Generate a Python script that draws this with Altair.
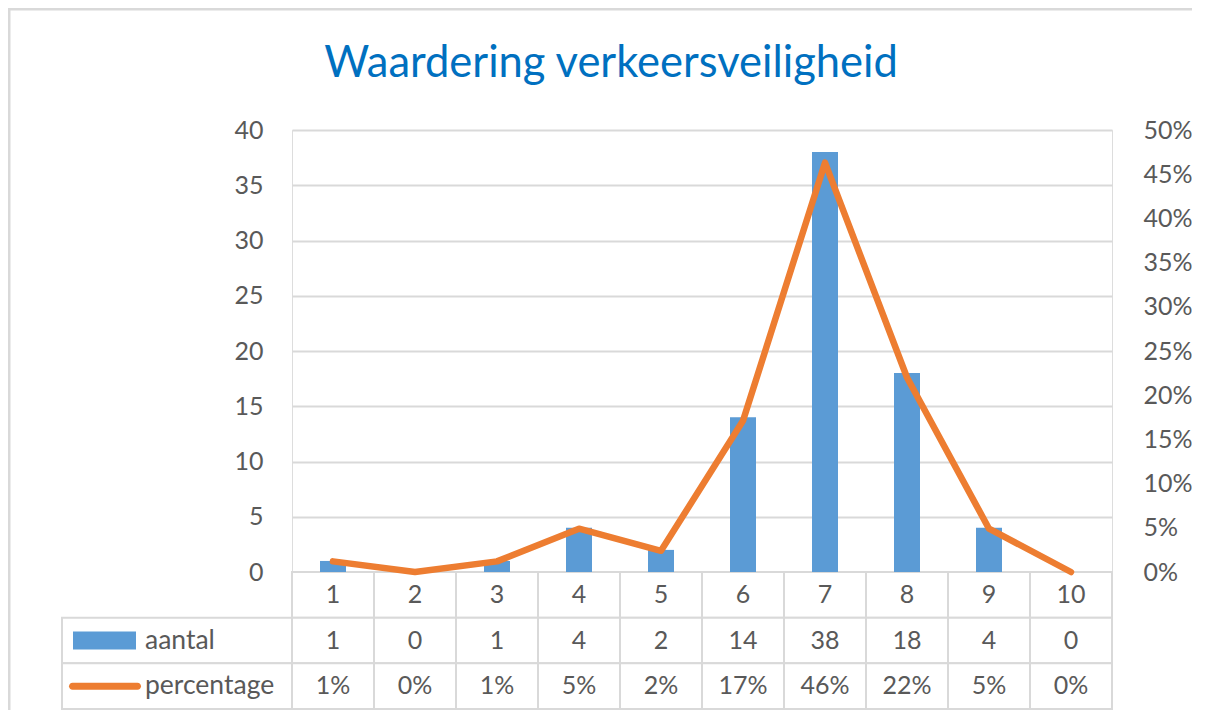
import altair as alt
import pandas as pd

# ---- data ----
categories = ["1", "2", "3", "4", "5", "6", "7", "8", "9", "10"]
aantal = [1, 0, 1, 4, 2, 14, 38, 18, 4, 0]
percentage = [1.2, 0.0, 1.2, 4.9, 2.4, 17.1, 46.3, 22.0, 4.9, 0.0]
percentage_labels = ["1%", "0%", "1%", "5%", "2%", "17%", "46%", "22%", "5%", "0%"]
series_names = ["aantal", "percentage"]
row_names = ["cat", "aantal", "percentage"]
left_ticks = [0, 5, 10, 15, 20, 25, 30, 35, 40]
right_ticks = [0, 0.05, 0.10, 0.15, 0.20, 0.25, 0.30, 0.35, 0.40, 0.45, 0.50]

# ---- layout ----
W = 820
H_PLOT = 442
ROW_H = 46
H = H_PLOT + 3 * ROW_H
PAD_R = 80
FONT = "Lato"
TXT = "#595959"
GRID = "#D9D9D9"
BLUE = "#5B9BD5"
ORANGE = "#ED7D31"

df = pd.DataFrame({"cat": categories, "aantal": aantal,
                   "pct": [p / 100 for p in percentage]})

table_rows = []
for c, a, pl in zip(categories, aantal, percentage_labels):
    table_rows.append({"cat": c, "row": "cat", "label": c})
    table_rows.append({"cat": c, "row": "aantal", "label": str(a)})
    table_rows.append({"cat": c, "row": "percentage", "label": pl})
tdf = pd.DataFrame(table_rows)
sdf = pd.DataFrame({"row": series_names})

x_enc = alt.X("cat:N", sort=categories,
              scale=alt.Scale(domain=categories, paddingInner=0, paddingOuter=0),
              axis=None)
table_y = alt.Y("row:N", sort=row_names,
                scale=alt.Scale(domain=row_names, range=[H_PLOT, H - 1],
                                paddingInner=0, paddingOuter=0),
                axis=None)

one = pd.DataFrame({"a": [0]})
border_top = alt.Chart(one).mark_rule(stroke=GRID, strokeWidth=3).encode(
    x=alt.value(-290), x2=alt.value(W + PAD_R), y=alt.value(-121))
border_left = alt.Chart(one).mark_rule(stroke=GRID, strokeWidth=3).encode(
    x=alt.value(-283), y=alt.value(-122.5), y2=alt.value(H))

cells = alt.Chart(tdf).mark_rect(fill="white", stroke=GRID, strokeWidth=2).encode(
    x=x_enc, y=table_y)

left_cells = alt.Chart(sdf).mark_rect(fill="white", stroke=GRID, strokeWidth=2).encode(
    x=alt.value(-230), x2=alt.value(0), y=table_y)

bars = alt.Chart(df).mark_bar(size=26, color=BLUE).encode(
    x=x_enc,
    y=alt.Y("aantal:Q",
            scale=alt.Scale(domain=[0, 40], range=[H_PLOT, 0], nice=False),
            axis=alt.Axis(values=left_ticks, grid=True, gridColor=GRID, gridWidth=2,
                          domain=False, ticks=False, labelPadding=29,
                          labelFontSize=25, labelFont=FONT, labelColor=TXT,
                          title=None)))

line = alt.Chart(df).mark_line(color=ORANGE, strokeWidth=6.5, strokeCap="round",
                               strokeJoin="round").encode(
    x=x_enc,
    y=alt.Y("pct:Q",
            scale=alt.Scale(domain=[0, 0.5], range=[H_PLOT, 0], nice=False),
            axis=alt.Axis(orient="right", values=right_ticks, format=".0%",
                          grid=False, domain=False, ticks=False, labelPadding=31,
                          labelFontSize=25, labelFont=FONT, labelColor=TXT,
                          title=None)))

texts = alt.Chart(tdf).mark_text(font=FONT, fontSize=25, color=TXT).encode(
    x=x_enc, y=table_y, text="label:N")

row_labels = alt.Chart(sdf).mark_text(font=FONT, fontSize=26.5, color=TXT,
                                      align="left").encode(
    x=alt.value(-147), y=table_y, text="row:N")

swatch_bar = alt.Chart(pd.DataFrame({"row": ["aantal"]})).mark_bar(
    height=18, color=BLUE).encode(
    x=alt.value(-219), x2=alt.value(-156), y=table_y)

swatch_line = alt.Chart(pd.DataFrame({"row": ["percentage"]})).mark_bar(
    height=7, cornerRadius=3.5, color=ORANGE).encode(
    x=alt.value(-223), x2=alt.value(-151), y=table_y)

chart = alt.layer(
    border_top, border_left, cells, left_cells, bars, line, texts, row_labels,
    swatch_bar, swatch_line
).resolve_scale(y="independent").properties(
    width=W, height=H,
    padding={"left": 284, "top": 122, "right": PAD_R, "bottom": 0},
    autosize=alt.AutoSizeParams(type="none"),
    title=alt.Title("Waardering verkeersveiligheid", font=FONT, fontSize=43.5,
                    fontWeight="normal", color="#0070C0", anchor="middle",
                    frame="group", dx=-91, offset=-80),
).configure_view(stroke=None).configure(background="white")

chart.save("out.html", embed_options={"renderer": "svg", "actions": False})
